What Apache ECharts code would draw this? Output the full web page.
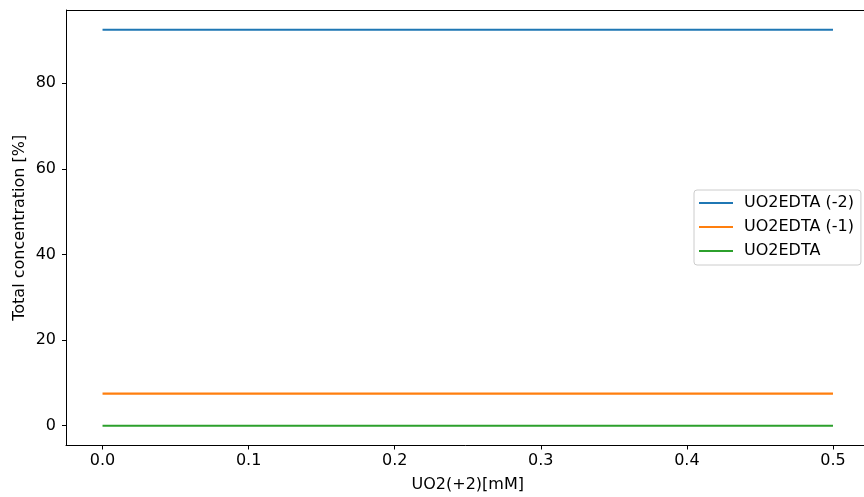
<!DOCTYPE html>
<html>
<head>
<meta charset="utf-8">
<script src="https://cdn.jsdelivr.net/npm/echarts@6/dist/echarts.min.js"></script>
<style>
  html, body { margin: 0; padding: 0; background: #fff; }
  #chart { width: 864px; height: 497px; }
</style>
</head>
<body>
<div id="chart"></div>
<script>
// UO2(+2) concentration steps [mM]
const uo2Conc = [0.0, 0.1, 0.2, 0.3, 0.4, 0.5];

// Species share of total concentration [%]
const uo2edtaMinus2 = [92.5, 92.5, 92.5, 92.5, 92.5, 92.5];
const uo2edtaMinus1 = [7.5, 7.5, 7.5, 7.5, 7.5, 7.5];
const uo2edtaNeutral = [0.0, 0.0, 0.0, 0.0, 0.0, 0.0];

const seriesNames = ['UO2EDTA (-2)', 'UO2EDTA (-1)', 'UO2EDTA'];
const seriesColors = ['#1f77b4', '#ff7f0e', '#2ca02c'];

const xTicks = [0.0, 0.1, 0.2, 0.3, 0.4, 0.5];
const yTicks = [0, 20, 40, 60, 80];

const font = 'DejaVu Sans';
const fs = 16;

const pairs = (xs, ys) => xs.map((x, i) => [x, ys[i]]);

const chart = echarts.init(document.getElementById('chart'), null, { renderer: 'canvas' });

// 5% padding around the data on both axes
const allY = [].concat(uo2edtaMinus2, uo2edtaMinus1, uo2edtaNeutral);
const yLo = Math.min.apply(null, allY), yHi = Math.max.apply(null, allY);
const yPad = (yHi - yLo) * 0.05;
const xLo = Math.min.apply(null, uo2Conc), xHi = Math.max.apply(null, uo2Conc);
const xPad = (xHi - xLo) * 0.05;

const axisCommon = {
  axisLine: { show: true, onZero: false, lineStyle: { color: '#000', width: 1 } },
  axisTick: { show: true, inside: false, length: 4, lineStyle: { color: '#000', width: 1 } },
  splitLine: { show: false },
  nameTextStyle: { fontFamily: font, fontSize: fs, color: '#000' }
};

chart.setOption({
  animation: false,
  backgroundColor: '#fff',
  grid: {
    left: 66, top: 10, right: -5.5, bottom: 51.5,
    containLabel: false,
    outerBoundsMode: 'none'
  },
  xAxis: Object.assign({}, axisCommon, {
    type: 'value',
    min: xLo - xPad,
    max: xHi + xPad,
    name: 'UO2(+2)[mM]',
    nameLocation: 'middle',
    nameGap: 31.5,
    axisTick: Object.assign({}, axisCommon.axisTick, { customValues: xTicks }),
    axisLabel: {
      customValues: xTicks,
      fontFamily: font, fontSize: fs, color: '#000', margin: 7.5,
      formatter: v => v.toFixed(1)
    }
  }),
  yAxis: Object.assign({}, axisCommon, {
    type: 'value',
    min: yLo - yPad,
    max: yHi + yPad,
    name: 'Total concentration [%]',
    nameLocation: 'middle',
    nameMoveOverlap: false,
    nameGap: 38,
    axisTick: Object.assign({}, axisCommon.axisTick, { customValues: yTicks }),
    axisLabel: {
      customValues: yTicks,
      fontFamily: font, fontSize: fs, color: '#000', margin: 10,
      formatter: v => String(Math.round(v))
    }
  }),
  legend: {
    orient: 'vertical',
    left: 694,
    top: 190,
    padding: [4, 7, 5, 5],
    itemGap: 6,
    itemWidth: 34,
    itemHeight: 2.2,
    icon: 'rect',
    backgroundColor: 'rgba(255,255,255,0.8)',
    borderColor: '#cccccc',
    borderWidth: 1,
    borderRadius: 3,
    textStyle: { fontFamily: font, fontSize: fs, lineHeight: 18, color: '#000', padding: [0, 0, 0, 6] },
    data: seriesNames
  },
  series: [uo2edtaMinus2, uo2edtaMinus1, uo2edtaNeutral].map((vals, i) => ({
    name: seriesNames[i],
    type: 'line',
    data: pairs(uo2Conc, vals),
    showSymbol: false,
    symbol: 'none',
    lineStyle: { color: seriesColors[i], width: 2.1 },
    itemStyle: { color: seriesColors[i] },
    z: 3
  }))
});

// top spine closing the frame
chart.setOption({
  graphic: [{
    type: 'line',
    shape: { x1: 66, y1: 10.5, x2: 864, y2: 10.5 },
    style: { stroke: '#000', lineWidth: 1 },
    z: 10
  }]
});
</script>
</body>
</html>
